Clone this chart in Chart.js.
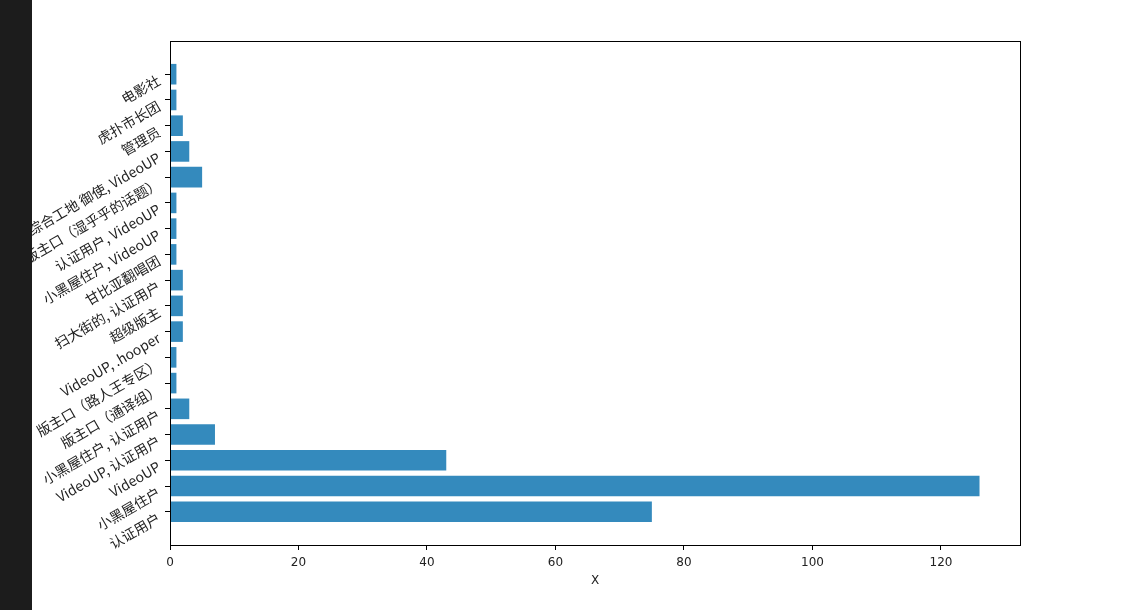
<!DOCTYPE html>
<html>
<head>
<meta charset="utf-8">
<script src="https://cdn.jsdelivr.net/npm/chart.js@4/dist/chart.umd.min.js"></script>
<style>
  html, body { margin: 0; padding: 0; }
  body { width: 1132px; height: 610px; position: relative; overflow: hidden; background: #fff; }
  #term { position: absolute; left: 0; top: 0; width: 32px; height: 610px; background: #1c1c1c; }
  #wrap { position: absolute; left: 32px; top: 0; width: 1100px; height: 610px; }
</style>
</head>
<body>
<div id="term"></div>
<div id="wrap"><canvas id="groupChart"></canvas></div>
<script>
// bottom to top, same order as the bars
const categories = ['认证用户', '小黑屋住户', 'VideoUP', 'VideoUP, 认证用户', '小黑屋住户, 认证用户',
  '版主口（通译组）', '版主口（路人王专区）', 'VideoUP, .hooper', '超级版主', '扫大街的, 认证用户',
  '甘比亚翻唱团', '小黑屋住户, VideoUP', '认证用户, VideoUP', '版主口（湿乎乎的话题）',
  '综合工地 御使, VideoUP', '管理员', '虎扑市长团', '电影社'];
const counts = [75, 126, 43, 7, 3, 1, 1, 2, 2, 2, 1, 1, 1, 5, 3, 2, 1, 1];
const x_ticks = [0, 20, 40, 60, 80, 100, 120];

const group_chart = document.getElementById('groupChart');

// matplotlib style full box around the axes
const frame = {
  id: 'frame',
  afterDraw(chart) {
    const a = chart.chartArea;
    const ctx = chart.ctx;
    ctx.save();
    ctx.strokeStyle = '#000';
    ctx.lineWidth = 1;
    ctx.strokeRect(Math.round(a.left) + 0.5, Math.round(a.top) + 0.5,
      Math.round(a.right - a.left), Math.round(a.bottom - a.top));
    ctx.restore();
  }
};

new Chart(group_chart, {
  type: 'bar',
  data: {
    datasets: [{
      data: counts.map((v, i) => ({ x: v, y: i })),
      backgroundColor: '#348ABD',
      borderWidth: 0,
      barPercentage: 0.8,
      categoryPercentage: 1
    }]
  },
  options: {
    indexAxis: 'y',
    responsive: true,
    maintainAspectRatio: false,
    animation: false,
    layout: { padding: { left: 0, right: 112, top: 41, bottom: 0 } },
    plugins: { legend: { display: false }, tooltip: { enabled: false } },
    scales: {
      x: {
        type: 'linear',
        min: 0,
        max: 132.3,
        bounds: 'data',
        offset: false,
        afterBuildTicks: axis => { axis.ticks = x_ticks.map(v => ({ value: v })); },
        afterFit: axis => { axis.height = 65; },
        ticks: {
          color: '#222',
          padding: 6,
          font: { family: 'DejaVu Sans', size: 12 },
          callback: v => String(v)
        },
        grid: { offset: false, drawOnChartArea: false, drawTicks: true, tickLength: 5, color: '#000' },
        border: { display: true, color: '#000' },
        title: {
          display: true,
          text: 'X',
          color: '#222',
          font: { family: 'DejaVu Sans', size: 12 },
          padding: { top: 0, bottom: 22 }
        }
      },
      y: {
        type: 'linear',
        min: -1.29,
        max: 18.29,
        bounds: 'data',
        offset: false,
        afterBuildTicks: axis => { axis.ticks = categories.map((_, i) => ({ value: i })); },
        afterFit: axis => { axis.width = 138; },
        ticks: {
          color: '#222',
          padding: 6,
          labelOffset: 5,
          minRotation: 30,
          maxRotation: 30,
          autoSkip: false,
          font: { family: "'Noto Sans CJK SC', 'DejaVu Sans'", size: 14 },
          callback: v => categories[v]
        },
        grid: { offset: false, drawOnChartArea: false, drawTicks: true, tickLength: 5, color: '#000' },
        border: { display: true, color: '#000' }
      }
    }
  },
  plugins: [frame]
});
</script>
</body>
</html>
